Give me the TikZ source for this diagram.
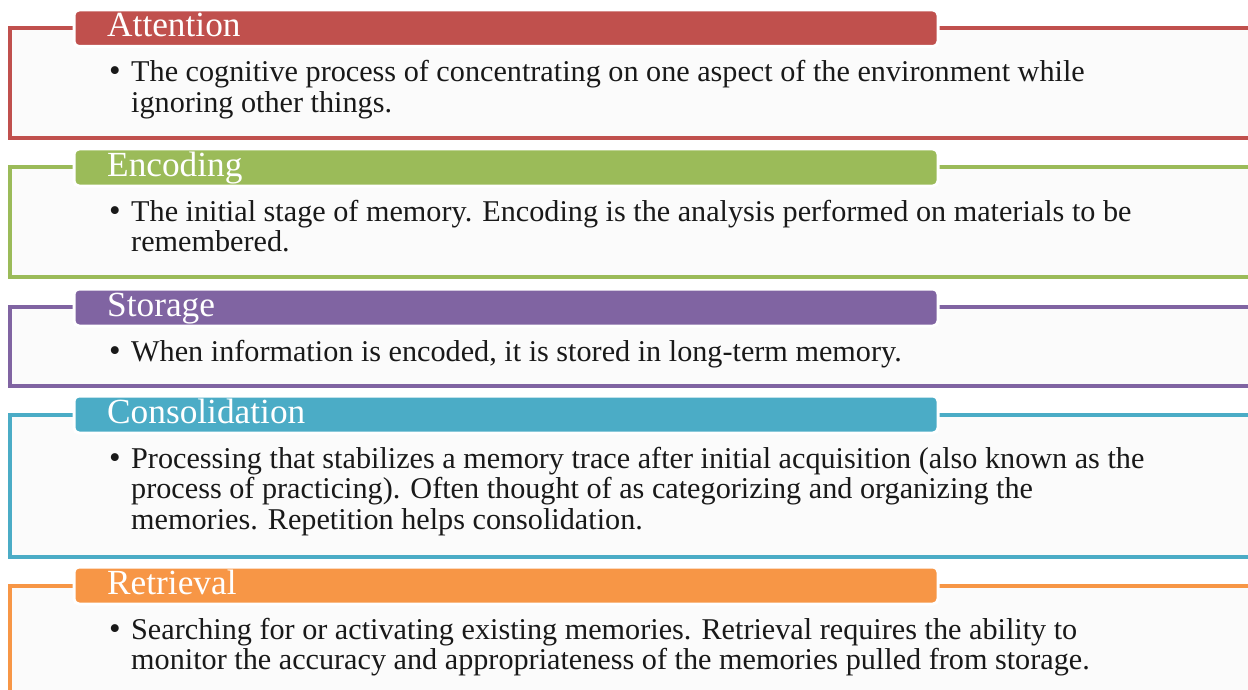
\documentclass[tikz,border=0pt]{standalone}
\usepackage{fontspec}
\setmainfont{Liberation Serif}
\definecolor{cRed}{HTML}{C0504D}
\definecolor{cGreen}{HTML}{9BBB59}
\definecolor{cPurple}{HTML}{8064A2}
\definecolor{cTeal}{HTML}{4BACC6}
\definecolor{cOrange}{HTML}{F79646}
\definecolor{frameFill}{HTML}{FBFBFB}
\tikzset{
  frameline/.style={draw=#1, line width=4pt, fill=frameFill},
  headbox/.style={fill=#1, draw=white, line width=3pt, rounded corners=5pt},
  headtext/.style={anchor=base west, inner sep=0pt, text=white, font=\fontsize{35.3}{36}\selectfont},
  bodytext/.style={anchor=base west, inner sep=0pt, align=left, text=black!90, font=\fontsize{30.2}{30.5}\selectfont},
  bullettext/.style={anchor=base west, inner sep=0pt, text=black!90, font=\fontsize{33}{30}\selectfont}
}
\begin{document}
\begin{tikzpicture}[x=1pt,y=-1pt]
\useasboundingbox (0,0) rectangle (1248,690);
\clip (0,0) rectangle (1248,690);
% Attention
\path[frameline=cRed] (10,28) rectangle (1262,138);
\path[headbox=cRed] (74,10) rectangle (938,46.5);
\node[headtext] (h1) at (107,37) {Attention};
\node[bullettext] (b1) at (109,82) {•};
\node[bodytext] (t1) at (131,112.5) {The cognitive process of concentrating on one aspect of the environment while\\ignoring other things.};
% Encoding
\path[frameline=cGreen] (10,167) rectangle (1262,277);
\path[headbox=cGreen] (74,149) rectangle (938,186);
\node[headtext] (h2) at (107,176) {Encoding};
\node[bullettext] (b2) at (109,221) {•};
\node[bodytext] (t2) at (131,251.5) {The initial stage of memory. Encoding is the analysis performed on materials to be\\remembered.};
% Storage
\path[frameline=cPurple] (10,307) rectangle (1262,386);
\path[headbox=cPurple] (74,289) rectangle (938,326);
\node[headtext] (h3) at (107,316) {Storage};
\node[bullettext] (b3) at (109,361) {•};
\node[bodytext] (t3) at (131,361) {When information is encoded, it is stored in long-term memory.};
% Consolidation
\path[frameline=cTeal] (10,415) rectangle (1262,557);
\path[headbox=cTeal] (74,396) rectangle (938,433);
\node[headtext] (h4) at (107,423) {Consolidation};
\node[bullettext] (b4) at (109,468) {•};
\node[bodytext] (t4) at (131,529) {Processing that stabilizes a memory trace after initial acquisition (also known as the\\process of practicing). Often thought of as categorizing  and organizing the\\memories. Repetition helps consolidation.};
% Retrieval
\path[frameline=cOrange] (10,586) rectangle (1262,720);
\path[headbox=cOrange] (74,567) rectangle (938,604);
\node[headtext] (h5) at (107,594) {Retrieval};
\node[bullettext] (b5) at (109,639) {•};
\node[bodytext] (t5) at (131,669.5) {Searching for or activating existing memories. Retrieval requires the ability to\\monitor the accuracy and appropriateness of the memories pulled from storage.};
\end{tikzpicture}
\end{document}
